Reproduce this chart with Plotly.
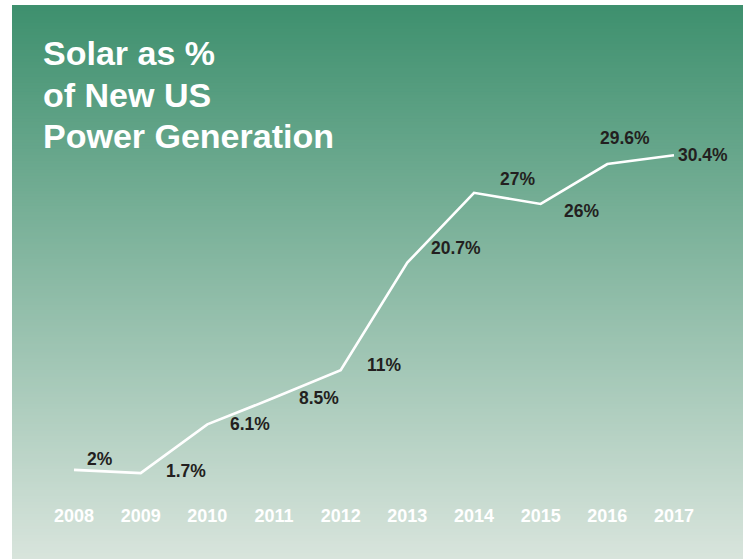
import plotly.graph_objects as go

years = [2008, 2009, 2010, 2011, 2012, 2013, 2014, 2015, 2016, 2017]
solar_share = [2, 1.7, 6.1, 8.5, 11, 20.7, 27, 26, 29.6, 30.4]
title_lines = ["Solar as %", "of New US", "Power Generation"]

W, H = 746, 559

# label offsets in pixels (style only)
label_shift = [(26, 11), (45, 2), (43, 0), (45, 0), (44, 5),
               (49, 15), (43, 14), (41, -7), (18, 26), (29, 0)]

fig = go.Figure()
fig.add_trace(go.Scatter(
    x=years, y=solar_share, mode="lines",
    line=dict(color="white", width=2.6), hoverinfo="skip", showlegend=False,
))

# gradient background as thin stripes (paper coords)
top = (62, 144, 110)
bot = (216, 228, 220)
x0, x1 = 12 / W, 743 / W
ytop_px, ybot_px = 5, 559
n = 185
shapes = []
step = (ybot_px - ytop_px) / n
for i in range(n):
    t = i / (n - 1)
    c = tuple(round(top[k] + (bot[k] - top[k]) * t) for k in range(3))
    py0 = ytop_px + i * step
    py1 = py0 + step + 1
    shapes.append(dict(
        type="rect", xref="paper", yref="paper", layer="below",
        x0=x0, x1=x1, y0=1 - min(py1, ybot_px) / H, y1=1 - py0 / H,
        fillcolor=f"rgb{c}", line=dict(width=0),
    ))

annotations = []
for yr, v, (dx, dy) in zip(years, solar_share, label_shift):
    annotations.append(dict(
        x=yr, y=v, xref="x", yref="y", text=f"{v:g}%", showarrow=False,
        xshift=dx, yshift=dy,
        font=dict(family="Liberation Sans, Arial, sans-serif", size=17.5, color="#231f20", weight="bold"),
    ))

title_y = [53, 95, 136]
for line, py in zip(title_lines, title_y):
    annotations.append(dict(
        x=41 / W, y=1 - py / H, xref="paper", yref="paper", text=line, showarrow=False,
        xanchor="left", yanchor="middle",
        font=dict(family="Liberation Sans, Arial, sans-serif", size=34, color="white", weight="bold"),
    ))

# axis mapping
x_first_px, x_last_px = 74, 674
ppy = (x_last_px - x_first_px) / (years[-1] - years[0])
xr = [years[0] - x_first_px / ppy, years[0] + (W - x_first_px) / ppy]

zero_px = 492
ppv = 11.08
plot_bottom_px = 503
yr_range = [(zero_px - plot_bottom_px) / ppv, zero_px / ppv]

fig.update_layout(
    width=W, height=H, margin=dict(l=0, r=0, t=0, b=0),
    paper_bgcolor="white", plot_bgcolor="rgba(0,0,0,0)",
    shapes=shapes, annotations=annotations,
    xaxis=dict(range=xr, tickmode="array", tickvals=years, ticktext=[str(y) for y in years],
               showgrid=False, zeroline=False, showline=False, ticks="",
               tickfont=dict(family="Liberation Sans, Arial, sans-serif", size=18, color="white", weight="bold"),
               fixedrange=True),
    yaxis=dict(range=yr_range, domain=[1 - plot_bottom_px / H, 1], showgrid=False, zeroline=False,
               showline=False, showticklabels=False, ticks="", fixedrange=True),
)

fig.write_html("out.html", config={"displayModeBar": False},
               post_script="document.body.style.margin='0px';")
